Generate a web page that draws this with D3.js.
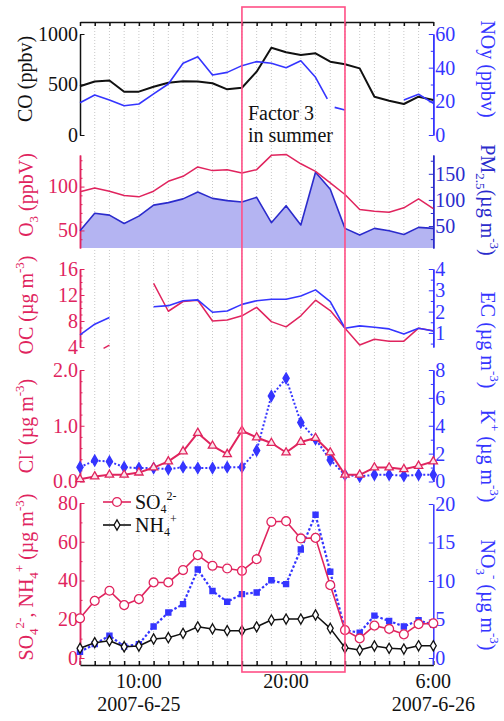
<!DOCTYPE html>
<html>
<head>
<meta charset="utf-8">
<script src="https://cdn.jsdelivr.net/npm/d3@7"></script>
<style>
  html, body { margin: 0; padding: 0; background: #fff; }
  svg { display: block; }
</style>
</head>
<body>
<div id="chart"></div>
<script>
// hours after 2007-6-25 06:00
const hours = [0,1,2,3,4,5,6,7,8,9,10,11,12,13,14,15,16,17,18,19,20,21,22,23,24];

const co   = [483,530,540,429,429,478,518,533,530,512,452,468,627,864,819,792,809,726,700,660,379,340,307,379,347];
const noyHours = [0,1,2,3,4,5,6,7,8,9,10,11,12,13,14,15,16,16.8,17,17.3,18,19,22,23,24];
const noy      = [19.2,23.8,20.8,17.4,18.4,24.4,30.3,42.6,46.5,35.6,37.2,41.2,43.6,42.6,40.0,44.1,34.3,21.4,null,16.4,14.9,null,20.8,24.2,18.8];

const o3   = [94,98.5,94.7,89.8,88.3,94.7,106,111.7,122.4,118.2,119.3,115.5,119.3,135.6,136.7,126,117.4,104.2,91,73.9,72,70.8,75.8,86,75];
const pm25 = [41,74.4,71,55,69,90,94.8,102,115,103,98.7,96,105,56.4,89,52,153,120.6,45.6,32.7,45.6,41,34,47.5,45.6];

const ocHours = [1.6,2,2.5,5,6,7,8,9,10,11,12,13,14,15,16,17,18,19,20,21,22,23,24];
const oc      = [3.8,4.3,null,13.8,9.5,11,11.2,8.0,8.15,8.8,10.1,7.9,7.1,8.8,11.2,9.6,6.9,4.3,5.2,4.9,4.9,6.9,6.5];
const ec   = [0.91,1.41,1.72,null,null,2.23,2.28,2.51,2.55,1.97,2.03,2.34,2.51,2.58,2.58,2.73,3.02,2.47,1.22,1.33,1.27,1.19,0.95,1.22,1.09];

const cl   = [0.04,0.09,0.12,0.12,0.16,0.25,0.36,0.54,0.87,0.64,0.49,0.91,0.79,0.69,0.52,0.71,0.78,0.52,0.12,0.12,0.25,0.25,0.22,0.28,0.36];
const kPlus = [1.03,1.5,1.43,1.03,0.96,0.96,0.89,1.03,0.96,0.96,1.03,1.03,2.22,6.14,7.4,4.23,3.04,1.55,0.48,0.36,0.48,0.48,0.41,0.48,0.48];

const so4  = [20.5,29.5,34.7,27.3,30.4,39,39,45.4,53.1,47.6,46.2,45,51,70.3,70.6,61.7,62,37.6,14.4,10.1,16.7,15,12.2,17.5,17.9];
const nh4  = [5,7.9,8.9,5.8,6.2,9.8,10.5,12.7,16.1,15,14.1,14.1,16.1,19.6,20.1,20.1,22.2,15.3,5.3,4.1,6.2,5,4.6,6.3,6.3];
const no3  = [0.8,1.8,2.9,1.5,1.8,4.1,5.9,7.0,11.5,8.7,7.3,8.3,8.5,10.1,9.6,14.1,18.6,11.2,3.6,3.3,5.5,4.8,4.1,4.9,4.3];

const xTickHours = [4, 14, 24];
const xTickTimes = ["10:00", "20:00", "6:00"];
const xTickDates = ["2007-6-25", "", "2007-6-26"];
const factorHours = [11, 18];

// colours
const CRIMSON = "#e0245e";
const BLUE = "#3535ff";
const DARKBLUE = "#2b2bcc";
const FONT = "Liberation Serif, Times New Roman, serif";

const W = 504, H = 721;
const svg = d3.select("#chart").append("svg").attr("width", W).attr("height", H);

const x = d3.scaleLinear().domain([0, 24]).range([80, 433.3]);

const yCO  = d3.scaleLinear().domain([0, 1000]).range([135, 34]);
const yNOy = d3.scaleLinear().domain([0, 60]).range([135, 34]);
const yO3  = d3.scaleLinear().domain([30, 136]).range([248, 155]);
const yPM  = d3.scaleLinear().domain([8, 186]).range([248, 155]);
const yOC  = d3.scaleLinear().domain([4, 16]).range([347, 269]);
const yEC  = d3.scaleLinear().domain([0.34, 4]).range([347, 269]);
const yCl  = d3.scaleLinear().domain([0, 2]).range([481.5, 370]);
const yK   = d3.scaleLinear().domain([0, 8]).range([481.5, 370]);
const ySO4 = d3.scaleLinear().domain([0, 80]).range([658, 503]);
const yNO3 = d3.scaleLinear().domain([0, 20]).range([658, 504]);

// ---------- grid ----------
svg.append("g")
  .selectAll("line")
  .data(hours.slice(1, -1))
  .join("line")
  .attr("x1", d => x(d)).attr("x2", d => x(d))
  .attr("y1", 22).attr("y2", 665)
  .attr("stroke", "#c8c8c8")
  .attr("stroke-width", 1)
  .attr("stroke-dasharray", "1,2");

// ---------- helpers ----------
function yAxis(scale, side, major, minor, color, fmt) {
  const make = () => side === "left" ? d3.axisLeft(scale) : d3.axisRight(scale);
  const g = svg.append("g")
    .attr("transform", `translate(${side === "left" ? x(0) : x(24)},0)`)
    .style("color", color);
  if (minor) {
    g.append("g").call(make().tickValues(minor).tickSizeInner(-2.5).tickSizeOuter(0).tickFormat(""));
  }
  g.append("g").call(make().tickValues(major).tickSizeInner(-4.5).tickSizeOuter(0).tickPadding(2).tickFormat(fmt));
  g.selectAll("path.domain").attr("stroke-width", 1.5);
  g.selectAll("g").attr("font-family", FONT).attr("font-size", 20);
  return g;
}

function drawLine(xs, ys, yScale, color, width, dash) {
  const line = d3.line()
    .defined((d, i) => ys[i] != null)
    .x((d, i) => x(xs[i]))
    .y((d, i) => yScale(ys[i]));
  svg.append("path")
    .datum(xs)
    .attr("d", line)
    .attr("fill", "none")
    .attr("stroke", color)
    .attr("stroke-width", width)
    .attr("stroke-linejoin", "round")
    .attr("stroke-dasharray", dash || null);
}

function drawMarkers(xs, ys, yScale, type, size, fill, stroke) {
  const sym = d3.symbol().type(type).size(size);
  svg.append("g")
    .selectAll("path")
    .data(xs.map((d, i) => [d, ys[i]]).filter(d => d[1] != null))
    .join("path")
    .attr("transform", d => `translate(${x(d[0])},${yScale(d[1])})`)
    .attr("d", sym)
    .attr("fill", fill)
    .attr("stroke", stroke)
    .attr("stroke-width", 1.3);
}

// rotated axis title, parts = [[text, "n"|"sub"|"sup"], ...]
function axisTitle(cx, cy, angle, color, parts) {
  const t = svg.append("text")
    .attr("transform", `translate(${cx},${cy}) rotate(${angle})`)
    .attr("text-anchor", "middle")
    .attr("font-family", FONT)
    .attr("font-size", 20)
    .attr("fill", color);
  let shift = 0;
  parts.forEach(([s, k]) => {
    const target = k === "sub" ? 5 : k === "sup" ? -9 : 0;
    t.append("tspan")
      .attr("dy", target - shift)
      .attr("font-size", k === "n" ? 20 : 13)
      .text(s);
    shift = target;
  });
}

// ---------- panel 2 area (under everything) ----------
const area = d3.area()
  .x((d, i) => x(hours[i]))
  .y0(yPM.range()[0])
  .y1((d, i) => yPM(pm25[i]));
svg.append("path").datum(pm25).attr("d", area).attr("fill", "#b4b4f2");

// ---------- top & bottom axes ----------
const topAx = svg.append("g").attr("transform", "translate(0,22)")
  .call(d3.axisTop(x).tickValues(hours).tickSizeInner(-4).tickSizeOuter(0).tickFormat(""));
topAx.selectAll("path, line").attr("stroke", "#111").attr("stroke-width", 1.5);

const botAx = svg.append("g").attr("transform", "translate(0,665)")
  .call(d3.axisBottom(x).tickValues(hours).tickSizeInner(-4).tickSizeOuter(0).tickFormat(""));
botAx.selectAll("path, line").attr("stroke", "#111").attr("stroke-width", 1.5);

xTickHours.forEach((h, i) => {
  svg.append("text").attr("x", x(h)).attr("y", 688)
    .attr("text-anchor", "middle").attr("font-family", FONT).attr("font-size", 20)
    .attr("fill", "#111").text(xTickTimes[i]);
  if (xTickDates[i]) {
    svg.append("text").attr("x", x(h)).attr("y", 711)
      .attr("text-anchor", "middle").attr("font-family", FONT).attr("font-size", 20)
      .attr("fill", "#111").text(xTickDates[i]);
  }
});

// ---------- y axes ----------
yAxis(yCO, "left", [0, 500, 1000], null, "#111", d3.format("d"));
yAxis(yNOy, "right", [0, 20, 40, 60], [10, 30, 50], BLUE, d3.format("d"));
yAxis(yO3, "left", [50, 100], [40, 60, 70, 80, 90, 110, 120, 130], CRIMSON, d3.format("d"));
yAxis(yPM, "right", [50, 100, 150], [25, 75, 125, 175], DARKBLUE, d3.format("d"));
yAxis(yOC, "left", [4, 8, 12, 16], [5, 6, 7, 9, 10, 11, 13, 14, 15], CRIMSON, d3.format("d"));
yAxis(yEC, "right", [1, 2, 3, 4], [0.5, 1.5, 2.5, 3.5], BLUE, d3.format("d"));
yAxis(yCl, "left", [0, 1, 2], [0.2, 0.4, 0.6, 0.8, 1.2, 1.4, 1.6, 1.8], CRIMSON, d3.format(".1f"));
yAxis(yK, "right", [0, 2, 4, 6, 8], [1, 3, 5, 7], BLUE, d3.format("d"));
yAxis(ySO4, "left", [0, 20, 40, 60, 80], [10, 30, 50, 70], CRIMSON, d3.format("d"));
yAxis(yNO3, "right", [0, 5, 10, 15, 20], null, BLUE, d3.format("d"));
// bottom panel axes run down to the time axis
svg.append("line").attr("x1", x(0)).attr("x2", x(0)).attr("y1", 658).attr("y2", 665)
  .attr("stroke", CRIMSON).attr("stroke-width", 1.5);
svg.append("line").attr("x1", x(24)).attr("x2", x(24)).attr("y1", 658).attr("y2", 665)
  .attr("stroke", BLUE).attr("stroke-width", 1.5);

// ---------- panel 1 ----------
drawLine(hours, co, yCO, "#111", 2);
drawLine(noyHours, noy, yNOy, BLUE, 1.6);

// ---------- panel 2 ----------
drawLine(hours, pm25, yPM, DARKBLUE, 1.6);
drawLine(hours, o3, yO3, CRIMSON, 1.5);

// ---------- panel 3 ----------
drawLine(ocHours, oc, yOC, CRIMSON, 1.5);
drawLine(hours, ec, yEC, BLUE, 1.6);

// ---------- panel 4 ----------
drawLine(hours, kPlus, yK, BLUE, 2, "2,2");
drawMarkers(hours, kPlus, yK, d3.symbolDiamond, 34, BLUE, BLUE);
drawLine(hours, cl, yCl, CRIMSON, 2);
drawMarkers(hours, cl, yCl, d3.symbolTriangle, 30, "#fbe3ea", CRIMSON);

// ---------- panel 5 ----------
drawLine(hours, no3, yNO3, BLUE, 2.2, "2.5,2");
drawMarkers(hours, no3, yNO3, d3.symbolSquare, 26, BLUE, BLUE);
drawLine(hours, nh4, ySO4, "#111", 1.5);
drawMarkers(hours, nh4, ySO4, d3.symbolDiamond, 30, "#fff", "#111");
drawLine(hours, so4, ySO4, CRIMSON, 1.6);
drawMarkers(hours, so4, ySO4, d3.symbolCircle, 62, "#fff", CRIMSON);

// legend
const legend = svg.append("g").attr("font-family", FONT);
[[502, CRIMSON, d3.symbolCircle, 62, "#fff", "SO", "4", "2-"],
 [525, "#111", d3.symbolDiamond, 30, "#fff", "NH", "4", "+"]].forEach(([ly, c, t, s, f, a, sub, sup]) => {
  legend.append("line").attr("x1", 103).attr("x2", 131).attr("y1", ly).attr("y2", ly)
    .attr("stroke", c).attr("stroke-width", 1.6);
  legend.append("path").attr("transform", `translate(117,${ly})`)
    .attr("d", d3.symbol().type(t).size(s)).attr("fill", f).attr("stroke", c).attr("stroke-width", 1.3);
  const tx = legend.append("text").attr("x", 135).attr("y", ly + 7).attr("font-size", 20).attr("fill", "#111");
  tx.append("tspan").text(a);
  tx.append("tspan").attr("font-size", 12).attr("dy", 4).text(sub);
  tx.append("tspan").attr("font-size", 12).attr("dy", -13).text(sup);
});

// ---------- axis titles ----------
axisTitle(32, 79, -90, "#111", [["CO (ppbv)", "n"]]);
axisTitle(33, 195, -90, CRIMSON, [["O", "n"], ["3", "sub"], [" (ppbV)", "n"]]);
axisTitle(33, 305, -90, CRIMSON, [["OC (µg m", "n"], ["-3", "sup"], [")", "n"]]);
axisTitle(33, 426, -90, CRIMSON, [["Cl", "n"], ["-", "sup"], [" (µg m", "n"], ["-3", "sup"], [")", "n"]]);
axisTitle(33, 577, -90, CRIMSON, [["SO", "n"], ["4", "sub"], ["2-", "sup"], [", NH", "n"], ["4", "sub"], ["+", "sup"], [" (µg m", "n"], ["-3", "sup"], [")", "n"]]);

axisTitle(481, 69, 90, BLUE, [["NOy (ppbv)", "n"]]);
axisTitle(481, 200, 90, DARKBLUE, [["PM", "n"], ["2.5", "sub"], ["(µg m", "n"], ["-3", "sup"], [")", "n"]]);
axisTitle(481, 340, 90, BLUE, [["EC (µg m", "n"], ["-3", "sup"], [")", "n"]]);
axisTitle(481, 456, 90, BLUE, [["K", "n"], ["+", "sup"], [" (µg m", "n"], ["-3", "sup"], [")", "n"]]);
axisTitle(481, 595, 90, BLUE, [["NO", "n"], ["3", "sub"], ["-", "sup"], [" (µg m", "n"], ["-3", "sup"], [")", "n"]]);

// ---------- factor 3 box ----------
svg.append("rect")
  .attr("x", x(factorHours[0])).attr("y", 7)
  .attr("width", x(factorHours[1]) - x(factorHours[0])).attr("height", 665)
  .attr("fill", "none").attr("stroke", "#ff4f86").attr("stroke-width", 1.6);
svg.append("text").attr("x", x(factorHours[0]) + 6).attr("y", 120)
  .attr("font-family", FONT).attr("font-size", 20).attr("fill", "#111").text("Factor 3");
svg.append("text").attr("x", x(factorHours[0]) + 6).attr("y", 142)
  .attr("font-family", FONT).attr("font-size", 20).attr("fill", "#111").text("in summer");
</script>
</body>
</html>
